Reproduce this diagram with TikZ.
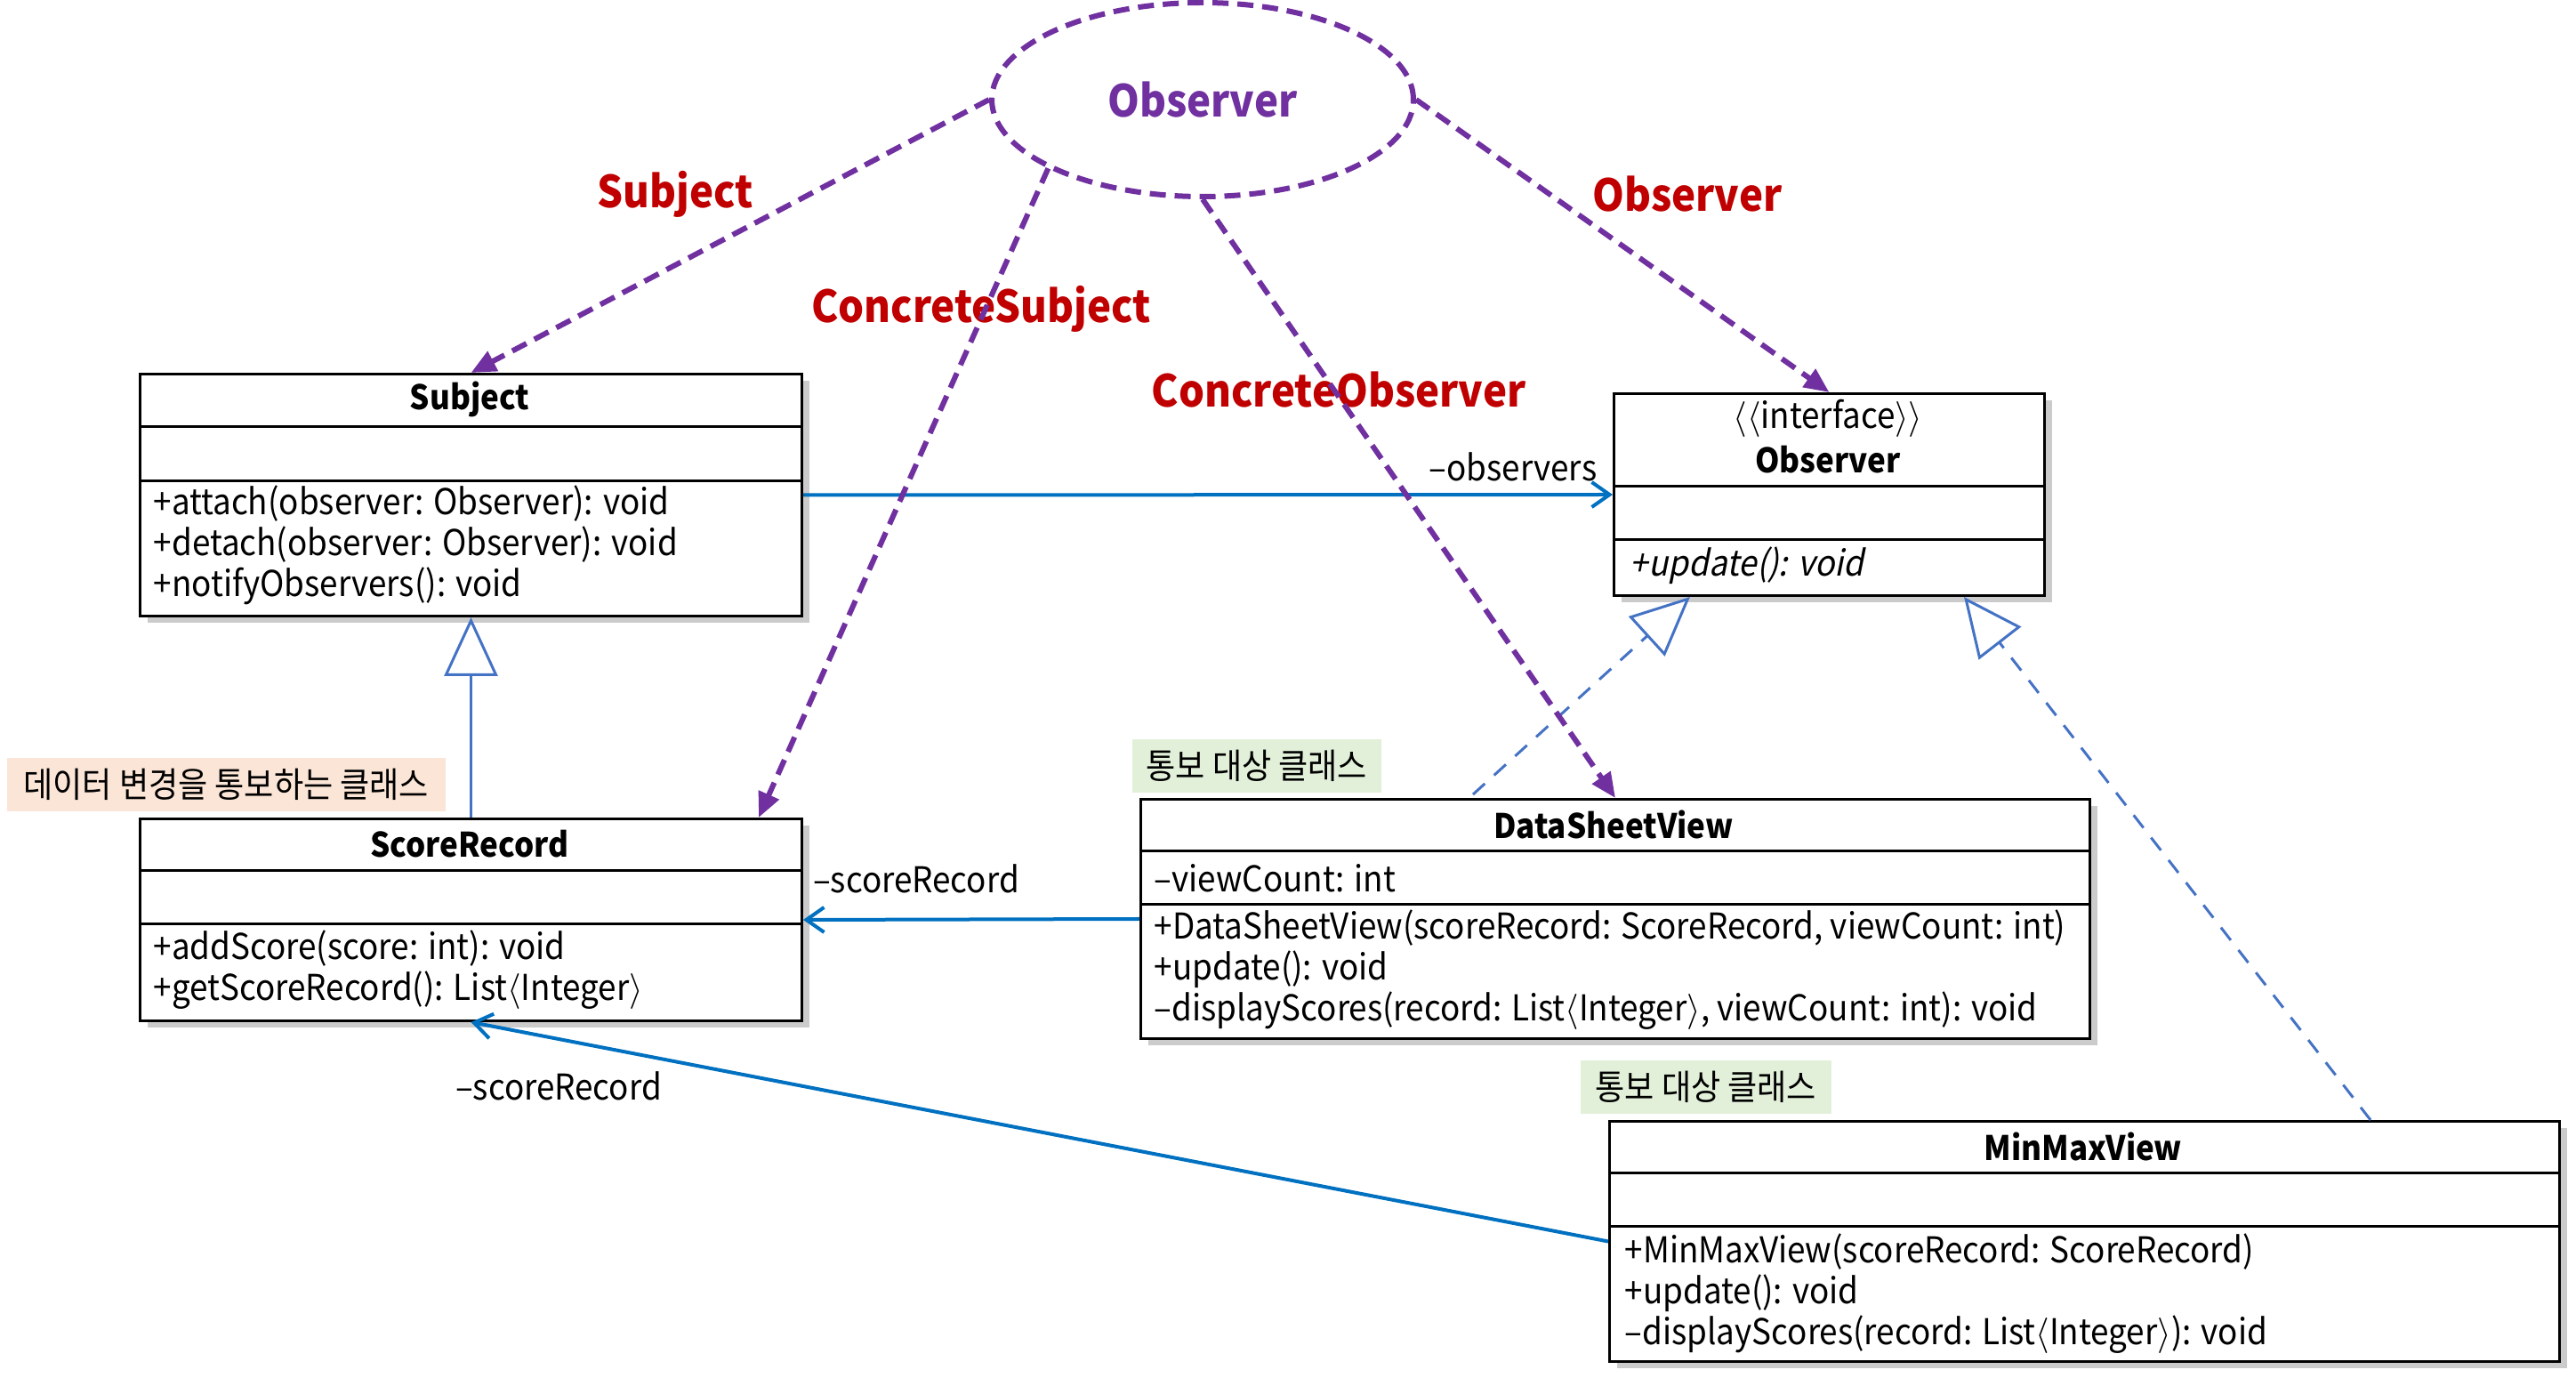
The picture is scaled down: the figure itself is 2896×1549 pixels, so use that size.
\documentclass[tikz,border=0pt]{standalone}
\usepackage{fontspec}
\setmainfont{Noto Sans CJK KR}[FakeStretch=0.92, ItalicFont={Noto Sans CJK KR}, ItalicFeatures={FakeSlant=0.2}]
\usetikzlibrary{arrows.meta,shapes.geometric,shadows,calc}
\definecolor{obpurple}{HTML}{7030A0}
\definecolor{lblred}{HTML}{C00000}
\definecolor{assocblue}{HTML}{0070C0}
\definecolor{genblue}{HTML}{4472C4}
\definecolor{notegreen}{HTML}{E2F0D9}
\definecolor{noteorange}{HTML}{FBE5D6}
\newcommand\lang{\ensuremath{\langle}}
\newcommand\rang{\ensuremath{\rangle}}
\begin{document}
\begin{tikzpicture}[x=0.25pt,y=-0.25pt,
  classbox/.style={draw=black, line width=0.75pt, fill=white, anchor=north west, inner sep=0pt,
    drop shadow={shadow xshift=2pt, shadow yshift=-2pt, fill=black!45, opacity=0.45}},
  member/.style={anchor=west, align=left, inner sep=0pt, font=\fontsize{10pt}{11.5pt}\selectfont},
  cname/.style={inner sep=0pt, font=\fontsize{9.5pt}{11.5pt}\selectfont\bfseries},
  sepline/.style={line width=0.75pt},
  role/.style={font=\fontsize{12.4pt}{14pt}\selectfont\bfseries, text=lblred, inner sep=0pt},
  patline/.style={draw=obpurple, line width=1.5pt, dash pattern=on 4.5pt off 2.5pt},
  patarrow/.style={patline, -{Triangle[length=7pt,width=6pt]}},
  assoc/.style={draw=assocblue, line width=1pt, -{Straight Barb[length=5pt,width=7pt]}},
  gen/.style={draw=genblue, line width=0.75pt, -{Triangle[length=16.5pt, width=15pt, fill=white]}},
  real/.style={gen, dash pattern=on 4.5pt off 3.5pt},
  note/.style={inner sep=0pt, anchor=north west, font=\fontsize{9.8pt}{11pt}\selectfont},
  endlbl/.style={font=\fontsize{10pt}{11.5pt}\selectfont, inner sep=0pt}
]
\useasboundingbox (0,0) rectangle (2896,1549);

% ---------- class boxes ----------
\node[classbox, minimum width=186pt, minimum height=68pt] (subj) at (156,419) {};
\draw[sepline] ($(subj.north west)+(0,61)$) -- ($(subj.north east)+(0,61)$);
\draw[sepline] ($(subj.north west)+(0,122)$) -- ($(subj.north east)+(0,122)$);
\node[cname] (subjname) at (528,449) {Subject};
\node[member] (subjops) at (172,613) {+attach(observer: Observer): void\\+detach(observer: Observer): void\\+notifyObservers(): void};

\node[classbox, minimum width=186pt, minimum height=56.75pt] (scr) at (156,919) {};
\draw[sepline] ($(scr.north west)+(0,60)$) -- ($(scr.north east)+(0,60)$);
\draw[sepline] ($(scr.north west)+(0,120)$) -- ($(scr.north east)+(0,120)$);
\node[cname] (scrname) at (528,949) {ScoreRecord};
\node[member] (scrops) at (172,1090) {+addScore(score: int): void\\+getScoreRecord(): List\lang Integer\rang};

\node[classbox, minimum width=121pt, minimum height=56.75pt] (obs) at (1813,441) {};
\draw[sepline] ($(obs.north west)+(0,106)$) -- ($(obs.north east)+(0,106)$);
\draw[sepline] ($(obs.north west)+(0,166)$) -- ($(obs.north east)+(0,166)$);
\node[endlbl] (obsster) at (2055,470) {\lang\lang interface\rang\rang};
\node[cname] (obsname) at (2055,517) {Observer};
\node[member] (obsops) at (1832,636) {\itshape +update(): void};

\node[classbox, minimum width=266.75pt, minimum height=67.25pt] (dsv) at (1281,897) {};
\draw[sepline] ($(dsv.north west)+(0,60)$) -- ($(dsv.north east)+(0,60)$);
\draw[sepline] ($(dsv.north west)+(0,120)$) -- ($(dsv.north east)+(0,120)$);
\node[cname] (dsvname) at (1814,927) {DataSheetView};
\node[member] (dsvattr) at (1297,987) {–viewCount: int};
\node[member] (dsvops) at (1297,1090) {+DataSheetView(scoreRecord: ScoreRecord, viewCount: int)\\+update(): void\\–displayScores(record: List\lang Integer\rang, viewCount: int): void};

\node[classbox, minimum width=267pt, minimum height=67.5pt] (mmv) at (1808,1259) {};
\draw[sepline] ($(mmv.north west)+(0,60)$) -- ($(mmv.north east)+(0,60)$);
\draw[sepline] ($(mmv.north west)+(0,120)$) -- ($(mmv.north east)+(0,120)$);
\node[cname] (mmvname) at (2342,1289) {MinMaxView};
\node[member] (mmvops) at (1826,1454) {+MinMaxView(scoreRecord: ScoreRecord)\\+update(): void\\–displayScores(record: List\lang Integer\rang): void};

% ---------- notes ----------
\node[note, fill=noteorange, minimum width=123.25pt, minimum height=15pt] (noteA) at (7,851) {데이터 변경을 통보하는 클래스};
\node[note, fill=notegreen, minimum width=70pt, minimum height=15pt] (noteB) at (1272,830) {통보 대상 클래스};
\node[note, fill=notegreen, minimum width=70.5pt, minimum height=15pt] (noteC) at (1776,1191) {통보 대상 클래스};

% ---------- UML connectors ----------
\draw[assoc] (subj.east) -- (obs.west);
\node[endlbl] (lobs) at (1701,525) {–observers};
\draw[assoc] (dsv.west) -- (scr.east);
\node[endlbl] (lscr1) at (1030,988) {–scoreRecord};
\draw[assoc] (mmv.west) -- (scr.south);
\node[endlbl] (lscr2) at (628,1221) {–scoreRecord};
\draw[gen] (scr.north) -- (subj.south);
\draw[real] ($(dsv.north west)+(375,-4)$) -- ($(obs.south west)+(87,0)$);
\draw[real] ($(mmv.north west)+(857,0)$) -- ($(obs.south west)+(395,0)$);

% ---------- pattern annotation ----------
\node[ellipse, patline, minimum width=118.5pt, minimum height=54.5pt, inner sep=0pt,
  font=\fontsize{12.4pt}{14pt}\selectfont\bfseries, text=obpurple] (ell) at (1352,112) {Observer};
\node[role] (rsubj) at (759,218) {Subject};
\node[role] (rcsubj) at (1103,347) {ConcreteSubject};
\node[role] (rcobs) at (1505,438) {ConcreteObserver};
\node[role] (robs) at (1897,218) {Observer};
\draw[patarrow] (ell.west) -- (subj.north);
\draw[patarrow] (ell.204) -- ($(scr.north west)+(697,0)$);
\draw[patarrow] (ell.south) -- (dsv.north);
\draw[patarrow] (ell.east) -- (obs.north);
\end{tikzpicture}
\end{document}
